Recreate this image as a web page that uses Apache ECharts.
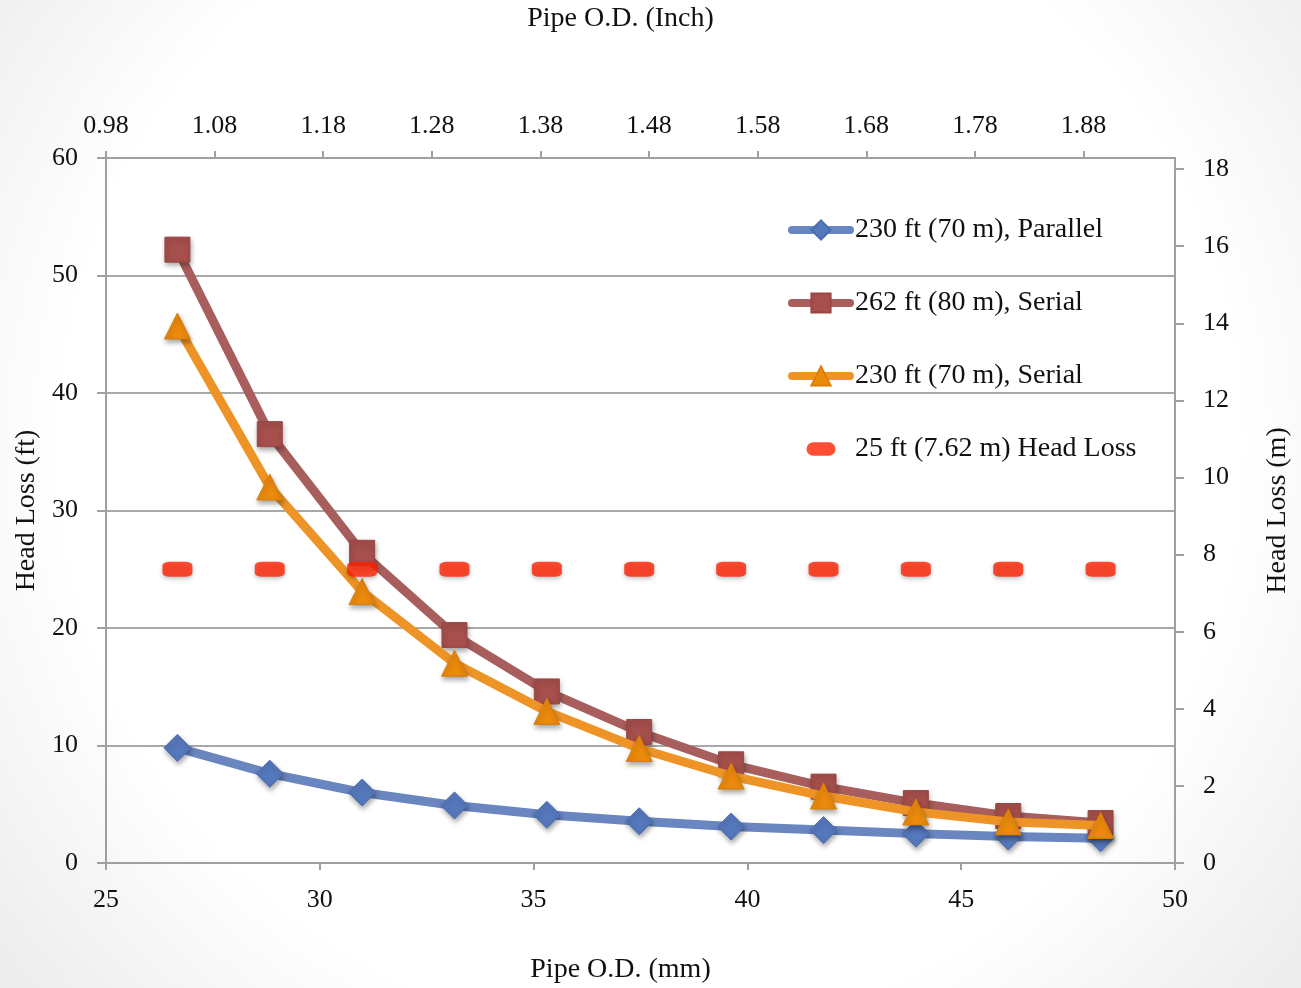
<!DOCTYPE html>
<html>
<head>
<meta charset="utf-8">
<script src="https://cdn.jsdelivr.net/npm/echarts@6/dist/echarts.min.js"></script>
<style>
html,body{margin:0;padding:0;background:#fff;}
#chart{width:1301px;height:988px;}
</style>
</head>
<body>
<div id="chart"></div>
<script>
// Pipe O.D. (mm) of each data point
const pipeOdMm = [26.67, 28.83, 30.99, 33.15, 35.31, 37.47, 39.62, 41.78, 43.94, 46.10, 48.26];
// Head loss (ft)
const parallel230 = [9.8, 7.6, 6.0, 4.9, 4.1, 3.55, 3.1, 2.8, 2.5, 2.25, 2.1];
const serial262 = [52.2, 36.5, 26.4, 19.4, 14.6, 11.15, 8.4, 6.5, 5.1, 4.0, 3.4];
const serial230 = [45.7, 32.0, 23.1, 17.0, 12.9, 9.75, 7.4, 5.7, 4.35, 3.5, 3.2];
const headLoss25 = [25, 25, 25, 25, 25, 25, 25, 25, 25, 25, 25];
// Top axis tick labels (inch)
const inchTickLabels = ['0.98', '1.08', '1.18', '1.28', '1.38', '1.48', '1.58', '1.68', '1.78', '1.88'];
const seriesNames = ['230 ft (70 m), Parallel', '262 ft (80 m), Serial', '230 ft (70 m), Serial', '25 ft (7.62 m) Head Loss'];

const FONT = 'Liberation Serif';
const axisGray = '#A0A0A0';
const TICK_FS = 26;
const NAME_FS = 28;

function pairs(ys) { return pipeOdMm.map((x, i) => [x, ys[i]]); }

const chart = echarts.init(document.getElementById('chart'), null, {renderer: 'canvas'});
const shadow = {shadowBlur: 5, shadowColor: 'rgba(0,0,0,0.35)', shadowOffsetX: 1, shadowOffsetY: 3};

const pillIcon = 'path://M0,0L0.01,0Z M60,24L59.99,24Z M22,5H38A7,7 0 0 1 38,19H22A7,7 0 0 1 22,5Z';

chart.setOption({
  backgroundColor: {
    type: 'radial', x: 0.5, y: 0.45, r: 0.85,
    colorStops: [{offset: 0, color: '#ffffff'}, {offset: 0.7, color: '#ffffff'}, {offset: 1, color: '#ececec'}]
  },
  textStyle: {fontFamily: FONT, color: '#111'},
  animation: false,
  grid: {left: 106, right: 126, top: 158, bottom: 125, containLabel: false, outerBoundsMode: 'none'},
  legend: {
    orient: 'vertical', left: 788, top: 216, padding: 0,
    itemWidth: 58, itemHeight: 24, itemGap: 45,
    lineStyle: {width: 8, cap: 'round'},
    textStyle: {fontFamily: FONT, fontSize: NAME_FS, lineHeight: 28, color: '#111'},
    data: [
      {name: seriesNames[0]},
      {name: seriesNames[1]},
      {name: seriesNames[2]},
      {name: seriesNames[3], icon: pillIcon}
    ]
  },
  xAxis: [
    {
      type: 'value', position: 'bottom', min: 25, max: 50, interval: 5,
      name: 'Pipe O.D. (mm)', nameLocation: 'middle', nameGap: 93,
      nameTextStyle: {fontFamily: FONT, fontSize: NAME_FS, color: '#111', padding: [0, 40, 0, 0]},
      axisLine: {onZero: false, lineStyle: {color: axisGray, width: 2}},
      axisTick: {show: true, inside: false, length: 7, lineStyle: {color: axisGray, width: 2}},
      axisLabel: {fontFamily: FONT, fontSize: TICK_FS, color: '#111', margin: 24},
      splitLine: {show: false}
    },
    {
      type: 'value', position: 'top', min: 25, max: 50, interval: 2.54,
      name: 'Pipe O.D. (Inch)', nameLocation: 'middle', nameGap: 125,
      nameTextStyle: {fontFamily: FONT, fontSize: NAME_FS, color: '#111', padding: [0, 40, 0, 0]},
      axisLine: {onZero: false, lineStyle: {color: axisGray, width: 2}},
      axisTick: {show: true, inside: false, length: 7, lineStyle: {color: axisGray, width: 2}},
      axisLabel: {
        fontFamily: FONT, fontSize: TICK_FS, color: '#111', margin: 19, showMaxLabel: false,
        formatter: v => {
          const i = Math.round((v - 25) / 2.54);
          return (Math.abs(25 + i * 2.54 - v) < 0.01 && inchTickLabels[i]) ? inchTickLabels[i] : '';
        }
      },
      splitLine: {show: false}
    }
  ],
  yAxis: [
    {
      type: 'value', position: 'left', min: 0, max: 60, interval: 10,
      name: 'Head Loss (ft)', nameLocation: 'middle', nameGap: 58, nameRotate: 90,
      nameTextStyle: {fontFamily: FONT, fontSize: NAME_FS, color: '#111'},
      axisLine: {show: true, onZero: false, lineStyle: {color: axisGray, width: 2}},
      axisTick: {show: true, inside: false, length: 9, lineStyle: {color: axisGray, width: 2}},
      axisLabel: {fontFamily: FONT, fontSize: TICK_FS, color: '#111', margin: 28},
      splitLine: {show: true, lineStyle: {color: '#A8A8A8', width: 2}}
    },
    {
      type: 'value', position: 'right', min: 0, max: 18.288, interval: 2,
      name: 'Head Loss (m)', nameLocation: 'middle', nameGap: 89, nameRotate: 90,
      nameTextStyle: {fontFamily: FONT, fontSize: NAME_FS, color: '#111'},
      axisLine: {show: true, onZero: false, lineStyle: {color: axisGray, width: 2}},
      axisTick: {show: true, inside: false, length: 9, lineStyle: {color: axisGray, width: 2}},
      axisLabel: {fontFamily: FONT, fontSize: TICK_FS, color: '#111', margin: 28, showMaxLabel: false},
      splitLine: {show: false}
    }
  ],
  series: [
    {
      name: seriesNames[0], type: 'line', xAxisIndex: 0, yAxisIndex: 0,
      data: pairs(parallel230),
      symbol: 'diamond', symbolSize: 27,
      lineStyle: {color: '#6A86C0', width: 9},
      itemStyle: Object.assign({color: '#5577BB', borderColor: '#4A6DB0', borderWidth: 1}, shadow),
      z: 3
    },
    {
      name: seriesNames[1], type: 'line', xAxisIndex: 0, yAxisIndex: 0,
      data: pairs(serial262),
      symbol: 'rect', symbolSize: 25,
      lineStyle: {color: '#A85E5C', width: 9},
      itemStyle: Object.assign({color: '#A64F4C', borderColor: '#9A4744', borderWidth: 1}, shadow),
      z: 4
    },
    {
      name: seriesNames[2], type: 'line', xAxisIndex: 0, yAxisIndex: 0,
      data: pairs(serial230),
      symbol: 'triangle', symbolSize: 26,
      lineStyle: {color: '#EE9426', width: 9},
      itemStyle: Object.assign({color: '#EC8A0C', borderColor: '#D97E08', borderWidth: 1}, shadow),
      z: 5
    },
    {
      name: seriesNames[3], type: 'scatter', xAxisIndex: 0, yAxisIndex: 0,
      data: pairs(headLoss25),
      symbol: 'roundRect', symbolSize: [30, 15],
      itemStyle: {color: '#FF2200', shadowBlur: 4, shadowColor: 'rgba(0,0,0,0.3)', shadowOffsetY: 2},
      z: 6
    }
  ]
});
</script>
</body>
</html>
